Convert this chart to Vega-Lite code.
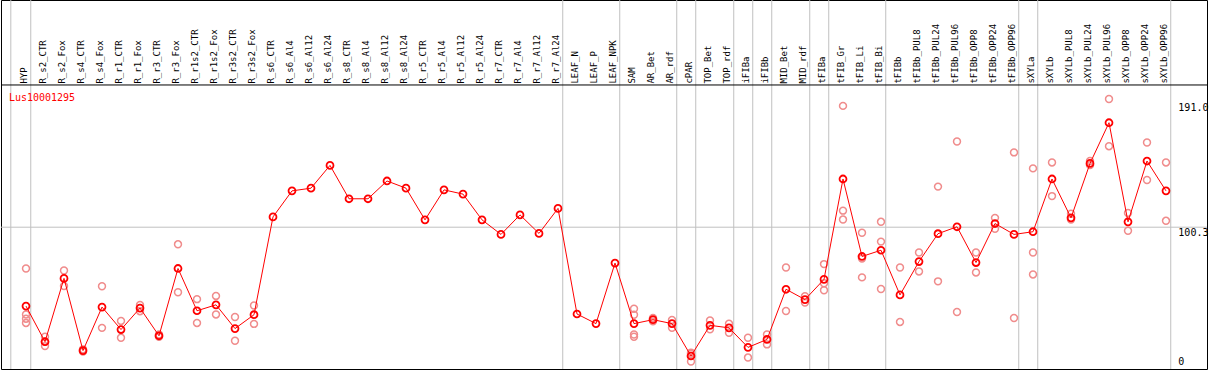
{
  "$schema": "https://vega.github.io/schema/vega-lite/v6.json",
  "width": 1206,
  "height": 369,
  "autosize": "none",
  "padding": {"left": 1, "top": 0, "right": 2, "bottom": 1},
  "background": "white",
  "config": {"view": {"stroke": "black", "strokeWidth": 1}, "font": "DejaVu Sans Mono"},
  "datasets": {
    "means": [
      {"i": 0, "name": "HYP", "v": 44.5},
      {"i": 1, "name": "R_s2_CTR", "v": 19.3},
      {"i": 2, "name": "R_s2_Fox", "v": 64.1},
      {"i": 3, "name": "R_s4_CTR", "v": 13.0},
      {"i": 4, "name": "R_s4_Fox", "v": 43.8},
      {"i": 5, "name": "R_r1_CTR", "v": 27.9},
      {"i": 6, "name": "R_r1_Fox", "v": 43.1},
      {"i": 7, "name": "R_r3_CTR", "v": 23.5},
      {"i": 8, "name": "R_r3_Fox", "v": 71.1},
      {"i": 9, "name": "R_r1s2_CTR", "v": 41.2},
      {"i": 10, "name": "R_r1s2_Fox", "v": 45.4},
      {"i": 11, "name": "R_r3s2_CTR", "v": 28.6},
      {"i": 12, "name": "R_r3s2_Fox", "v": 38.4},
      {"i": 13, "name": "R_s6_CTR", "v": 107.6},
      {"i": 14, "name": "R_s6_Al4", "v": 126.0},
      {"i": 15, "name": "R_s6_Al12", "v": 127.9},
      {"i": 16, "name": "R_s6_Al24", "v": 144.0},
      {"i": 17, "name": "R_s8_CTR", "v": 120.4},
      {"i": 18, "name": "R_s8_Al4", "v": 120.4},
      {"i": 19, "name": "R_s8_Al12", "v": 133.0},
      {"i": 20, "name": "R_s8_Al24", "v": 127.9},
      {"i": 21, "name": "R_r5_CTR", "v": 105.5},
      {"i": 22, "name": "R_r5_Al4", "v": 126.7},
      {"i": 23, "name": "R_r5_Al12", "v": 123.7},
      {"i": 24, "name": "R_r5_Al24", "v": 105.5},
      {"i": 25, "name": "R_r7_CTR", "v": 95.2},
      {"i": 26, "name": "R_r7_Al4", "v": 109.0},
      {"i": 27, "name": "R_r7_Al12", "v": 95.9},
      {"i": 28, "name": "R_r7_Al24", "v": 113.6},
      {"i": 29, "name": "LEAF_N", "v": 38.9},
      {"i": 30, "name": "LEAF_P", "v": 32.1},
      {"i": 31, "name": "LEAF_NPK", "v": 74.9},
      {"i": 32, "name": "SAM", "v": 32.1},
      {"i": 33, "name": "AR_Bet", "v": 34.9},
      {"i": 34, "name": "AR_rdf", "v": 32.1},
      {"i": 35, "name": "cPAR", "v": 9.2},
      {"i": 36, "name": "TOP_Bet", "v": 30.9},
      {"i": 37, "name": "TOP_rdf", "v": 29.1},
      {"i": 38, "name": "iFIBa", "v": 15.3},
      {"i": 39, "name": "iFIBb", "v": 20.9},
      {"i": 40, "name": "MID_Bet", "v": 56.4},
      {"i": 41, "name": "MID_rdf", "v": 49.1},
      {"i": 42, "name": "tFIBa", "v": 63.4},
      {"i": 43, "name": "tFIB_Gr", "v": 134.4},
      {"i": 44, "name": "tFIB_Li", "v": 79.6},
      {"i": 45, "name": "tFIB_Bi", "v": 84.0},
      {"i": 46, "name": "tFIBb", "v": 52.4},
      {"i": 47, "name": "tFIBb_PUL8", "v": 76.0},
      {"i": 48, "name": "tFIBb_PUL24", "v": 95.7},
      {"i": 49, "name": "tFIBb_PUL96", "v": 100.6},
      {"i": 50, "name": "tFIBb_OPP8", "v": 75.3},
      {"i": 51, "name": "tFIBb_OPP24", "v": 102.9},
      {"i": 52, "name": "tFIBb_OPP96", "v": 95.2},
      {"i": 53, "name": "sXYLa", "v": 97.1},
      {"i": 54, "name": "sXYLb", "v": 134.4},
      {"i": 55, "name": "sXYLb_PUL8", "v": 106.9},
      {"i": 56, "name": "sXYLb_PUL24", "v": 145.4},
      {"i": 57, "name": "sXYLb_PUL96", "v": 174.2},
      {"i": 58, "name": "sXYLb_OPP8", "v": 104.1},
      {"i": 59, "name": "sXYLb_OPP24", "v": 147.1},
      {"i": 60, "name": "sXYLb_OPP96", "v": 126.0}
    ],
    "reps": [
      {"i": 0, "v": 71.1}, {"i": 0, "v": 38.6}, {"i": 0, "v": 35.6}, {"i": 0, "v": 32.6},
      {"i": 1, "v": 22.8}, {"i": 1, "v": 19.3}, {"i": 1, "v": 16.2},
      {"i": 2, "v": 69.7}, {"i": 2, "v": 58.7},
      {"i": 3, "v": 13.9}, {"i": 3, "v": 12.3},
      {"i": 4, "v": 58.5}, {"i": 4, "v": 29.1},
      {"i": 5, "v": 34.0}, {"i": 5, "v": 22.1},
      {"i": 6, "v": 45.3}, {"i": 6, "v": 40.9},
      {"i": 7, "v": 24.4}, {"i": 7, "v": 22.8},
      {"i": 8, "v": 88.2}, {"i": 8, "v": 54.3},
      {"i": 9, "v": 49.4}, {"i": 9, "v": 32.6},
      {"i": 10, "v": 51.7}, {"i": 10, "v": 38.6},
      {"i": 11, "v": 36.8}, {"i": 11, "v": 20.0},
      {"i": 12, "v": 44.9}, {"i": 12, "v": 31.9},
      {"i": 32, "v": 42.6}, {"i": 32, "v": 38.4}, {"i": 32, "v": 24.4}, {"i": 32, "v": 22.8},
      {"i": 33, "v": 36.1}, {"i": 33, "v": 33.7},
      {"i": 34, "v": 34.7}, {"i": 34, "v": 29.1},
      {"i": 35, "v": 11.6}, {"i": 35, "v": 10.7}, {"i": 35, "v": 5.3},
      {"i": 36, "v": 34.4}, {"i": 36, "v": 28.1},
      {"i": 37, "v": 32.1}, {"i": 37, "v": 25.6},
      {"i": 38, "v": 22.1}, {"i": 38, "v": 8.1},
      {"i": 39, "v": 24.4}, {"i": 39, "v": 17.4},
      {"i": 40, "v": 71.8}, {"i": 40, "v": 41.0},
      {"i": 41, "v": 51.5}, {"i": 41, "v": 47.0},
      {"i": 42, "v": 74.2}, {"i": 42, "v": 60.6}, {"i": 42, "v": 55.7},
      {"i": 43, "v": 186.1}, {"i": 43, "v": 112.0}, {"i": 43, "v": 105.7},
      {"i": 44, "v": 96.4}, {"i": 44, "v": 78.2}, {"i": 44, "v": 64.8},
      {"i": 45, "v": 104.1}, {"i": 45, "v": 90.1}, {"i": 45, "v": 56.6},
      {"i": 46, "v": 71.8}, {"i": 46, "v": 33.3},
      {"i": 47, "v": 82.4}, {"i": 47, "v": 69.0},
      {"i": 48, "v": 129.0}, {"i": 48, "v": 62.0},
      {"i": 49, "v": 160.9}, {"i": 49, "v": 40.3},
      {"i": 50, "v": 82.4}, {"i": 50, "v": 68.3},
      {"i": 51, "v": 106.9}, {"i": 51, "v": 99.2},
      {"i": 52, "v": 153.2}, {"i": 52, "v": 36.1},
      {"i": 53, "v": 141.9}, {"i": 53, "v": 82.4}, {"i": 53, "v": 66.9},
      {"i": 54, "v": 146.1}, {"i": 54, "v": 122.3},
      {"i": 55, "v": 109.9}, {"i": 55, "v": 105.7},
      {"i": 56, "v": 147.1}, {"i": 56, "v": 144.2},
      {"i": 57, "v": 191.0}, {"i": 57, "v": 157.6},
      {"i": 58, "v": 110.4}, {"i": 58, "v": 97.8},
      {"i": 59, "v": 160.2}, {"i": 59, "v": 133.7},
      {"i": 60, "v": 146.1}, {"i": 60, "v": 104.8}
    ],
    "bounds": [
      {"b": -0.8}, {"b": 0.25}, {"b": 28.25}, {"b": 31.25}, {"b": 34.25}, {"b": 35.25},
      {"b": 37.25}, {"b": 38.25}, {"b": 39.25}, {"b": 41.25}, {"b": 42.25}, {"b": 45.25},
      {"b": 52.25}, {"b": 53.25}, {"b": 60.25}
    ],
    "ylabels": [
      {"v": 191, "label": "191.0"},
      {"v": 100.3, "label": "100.3"},
      {"v": 0, "label": "0"}
    ]
  },
  "layer": [
    {
      "data": {"name": "bounds"},
      "mark": {"type": "rule", "color": "#c0c0c0", "strokeWidth": 1},
      "encoding": {
        "x": {"field": "b", "type": "quantitative", "scale": {"domain": [-1.31579, 62.1579], "nice": false, "zero": false}, "axis": null}
      }
    },
    {
      "data": {"values": [{}]},
      "mark": {"type": "rule", "color": "#c0c0c0", "strokeWidth": 1},
      "encoding": {
        "y": {"datum": 100.3, "type": "quantitative", "scale": {"domain": [0, 261], "nice": false, "zero": false}, "axis": null}
      }
    },
    {
      "data": {"values": [{}]},
      "mark": {"type": "rule", "color": "black", "strokeWidth": 1},
      "encoding": {
        "y": {"datum": 200.9, "type": "quantitative", "scale": {"domain": [0, 261], "nice": false, "zero": false}, "axis": null}
      }
    },
    {
      "data": {"name": "reps"},
      "mark": {"type": "point", "shape": "circle", "filled": false, "stroke": "#f08c8c", "strokeWidth": 1.5, "size": 48, "opacity": 1},
      "encoding": {
        "x": {"field": "i", "type": "quantitative", "scale": {"domain": [-1.31579, 62.1579], "nice": false, "zero": false}, "axis": null},
        "y": {"field": "v", "type": "quantitative", "scale": {"domain": [0, 261], "nice": false, "zero": false}, "axis": null}
      }
    },
    {
      "data": {"name": "means"},
      "mark": {"type": "line", "color": "#ff0000", "strokeWidth": 1},
      "encoding": {
        "x": {"field": "i", "type": "quantitative", "scale": {"domain": [-1.31579, 62.1579], "nice": false, "zero": false}, "axis": null},
        "y": {"field": "v", "type": "quantitative", "scale": {"domain": [0, 261], "nice": false, "zero": false}, "axis": null}
      }
    },
    {
      "data": {"name": "means"},
      "mark": {"type": "point", "shape": "circle", "filled": false, "stroke": "#ff0000", "strokeWidth": 1.8, "size": 48, "opacity": 1},
      "encoding": {
        "x": {"field": "i", "type": "quantitative", "scale": {"domain": [-1.31579, 62.1579], "nice": false, "zero": false}, "axis": null},
        "y": {"field": "v", "type": "quantitative", "scale": {"domain": [0, 261], "nice": false, "zero": false}, "axis": null}
      }
    },
    {
      "data": {"name": "means"},
      "mark": {"type": "text", "angle": 270, "align": "left", "baseline": "alphabetic", "dy": 1, "fontSize": 9, "font": "DejaVu Sans Mono", "color": "black"},
      "encoding": {
        "x": {"field": "i", "type": "quantitative", "scale": {"domain": [-1.31579, 62.1579], "nice": false, "zero": false}, "axis": null},
        "y": {"datum": 201.9, "type": "quantitative", "scale": {"domain": [0, 261], "nice": false, "zero": false}, "axis": null},
        "text": {"field": "name"}
      }
    },
    {
      "data": {"values": [{"gene": "Lus10001295"}]},
      "mark": {"type": "text", "align": "left", "baseline": "alphabetic", "fontSize": 10, "font": "DejaVu Sans Mono", "color": "#ff0000"},
      "encoding": {
        "x": {"datum": -0.9, "type": "quantitative", "scale": {"domain": [-1.31579, 62.1579], "nice": false, "zero": false}, "axis": null},
        "y": {"datum": 189.8, "type": "quantitative", "scale": {"domain": [0, 261], "nice": false, "zero": false}, "axis": null},
        "text": {"field": "gene"}
      }
    },
    {
      "data": {"name": "ylabels"},
      "transform": [{"filter": "datum.v == 191"}],
      "mark": {"type": "text", "align": "left", "baseline": "top", "dy": 4, "fontSize": 10, "font": "DejaVu Sans Mono", "color": "black"},
      "encoding": {
        "x": {"datum": 60.65, "type": "quantitative", "scale": {"domain": [-1.31579, 62.1579], "nice": false, "zero": false}, "axis": null},
        "y": {"field": "v", "type": "quantitative", "scale": {"domain": [0, 261], "nice": false, "zero": false}, "axis": null},
        "text": {"field": "label"}
      }
    },
    {
      "data": {"name": "ylabels"},
      "transform": [{"filter": "datum.v == 100.3"}],
      "mark": {"type": "text", "align": "left", "baseline": "top", "dy": 1, "fontSize": 10, "font": "DejaVu Sans Mono", "color": "black"},
      "encoding": {
        "x": {"datum": 60.65, "type": "quantitative", "scale": {"domain": [-1.31579, 62.1579], "nice": false, "zero": false}, "axis": null},
        "y": {"field": "v", "type": "quantitative", "scale": {"domain": [0, 261], "nice": false, "zero": false}, "axis": null},
        "text": {"field": "label"}
      }
    },
    {
      "data": {"name": "ylabels"},
      "transform": [{"filter": "datum.v == 0"}],
      "mark": {"type": "text", "align": "left", "baseline": "bottom", "dy": -2, "fontSize": 10, "font": "DejaVu Sans Mono", "color": "black"},
      "encoding": {
        "x": {"datum": 60.65, "type": "quantitative", "scale": {"domain": [-1.31579, 62.1579], "nice": false, "zero": false}, "axis": null},
        "y": {"field": "v", "type": "quantitative", "scale": {"domain": [0, 261], "nice": false, "zero": false}, "axis": null},
        "text": {"field": "label"}
      }
    }
  ]
}
